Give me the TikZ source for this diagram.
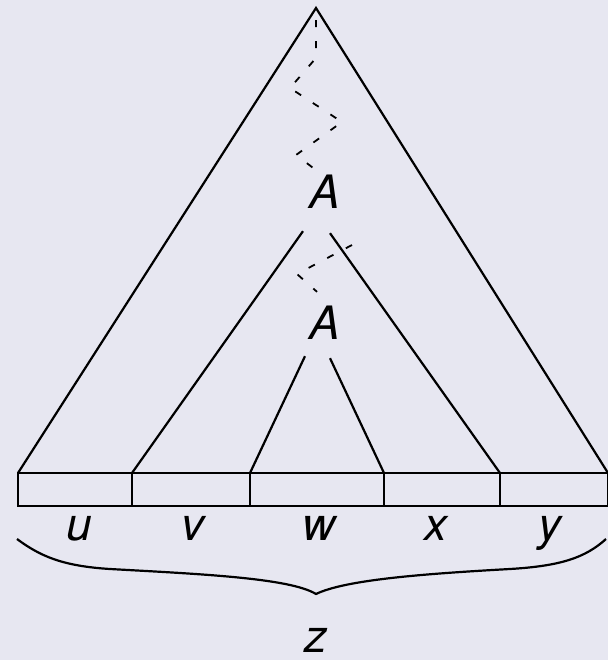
\documentclass[tikz,border=0pt]{standalone}
\usepackage{fontspec}
\setmainfont{TeX Gyre Heros}
\usepackage{xcolor}
\usetikzlibrary{positioning,calc}
\definecolor{slidebg}{RGB}{231,231,241}

\begin{document}
\begin{tikzpicture}[
  x=0.5pt, y=-0.5pt,
  node distance=0pt,
  cell/.style={draw, rectangle, line width=1.2pt, inner sep=0pt, outer sep=0pt,
               minimum height=16.5pt},
  sym/.style={inner sep=0pt, font=\fontsize{23}{27}\selectfont\itshape},
  side/.style={line width=1.1pt},
  derive/.style={line width=0.9pt, dash pattern=on 3.5pt off 7pt},
  brc/.style={line width=1.1pt}
]
\fill[slidebg] (0,0) rectangle (608,660);
\useasboundingbox (0,0) rectangle (608,660);

% Word cells
\node[cell, minimum width=57pt] (cu) at (75,489.5) {};
\node[cell, minimum width=59pt, right=of cu] (cv) {};
\node[cell, minimum width=67pt, right=of cv] (cw) {};
\node[cell, minimum width=58pt, right=of cw] (cx) {};
\node[cell, minimum width=54pt, right=of cx] (cy) {};

% Cell labels
\node[sym, below=5pt of cu, xshift=2pt] (lu) {u};
\node[sym, below=5pt of cv, xshift=1pt] (lv) {v};
\node[sym, below=5pt of cw, xshift=1pt] (lw) {w};
\node[sym, below=5pt of cx, xshift=-3pt] (lx) {x};
\node[sym, below=5pt of cy, xshift=-2pt] (ly) {y};

% Nonterminals
\coordinate (apex) at (316,8);
\node[sym] (A1) at (325,192) {A};
\node[sym] (A2) at (325,323) {A};

% Outer tree
\draw[side] (cu.north west) -- (apex) -- (cy.north east);

% Tree below the first A
\coordinate (A1l) at ($(A1.south)+(-22,22)$);
\coordinate (A1r) at ($(A1.south)+(5,24)$);
\draw[side] (A1l) -- (cv.north west);
\draw[side] (A1r) -- (cx.north east);

% Tree below the second A
\coordinate (A2l) at ($(A2.south)+(-20,16)$);
\coordinate (A2r) at ($(A2.south)+(5,18)$);
\draw[side] (A2l) -- (cw.north west);
\draw[side] (A2r) -- (cw.north east);

% Derivation paths
\draw[derive, dash phase=4.5pt] (apex) -- (316,58) -- (290,88) -- (342,122)
  -- (296,155) -- ($(A1.north)+(-8,-4)$);
\draw[derive] (352,245) -- (297,274) -- ($(A2.north)+(-8,-14)$);

% Brace over the word
\coordinate (bl) at (17,539);
\coordinate (btip) at (316,594);
\coordinate (br) at (606,539);
\draw[brc] (bl) .. controls (40,556) and (62,566) .. (110,569)
  .. controls (200,574) and (290,578) .. (btip)
  .. controls (345,580) and (420,574) .. (510,569)
  .. controls (560,566) and (585,558) .. (br);
\node[sym, below=17pt of btip] (lz) {z};

\end{tikzpicture}
\end{document}
